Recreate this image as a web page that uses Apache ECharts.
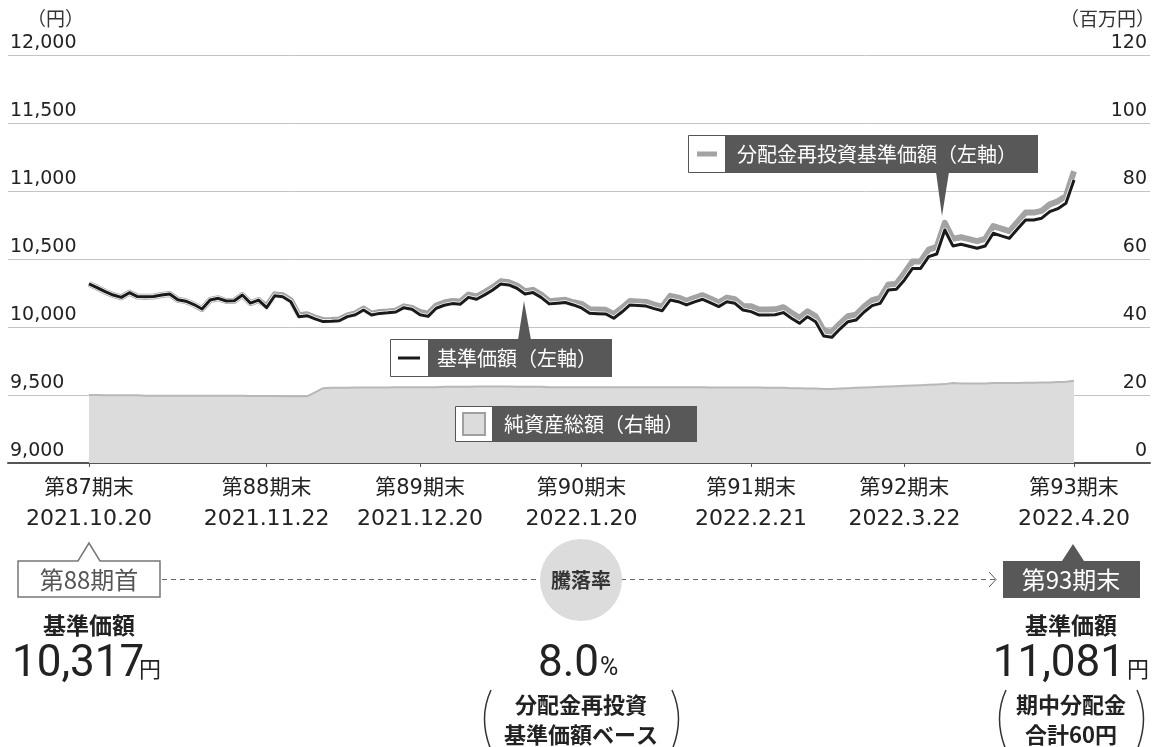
<!DOCTYPE html>
<html><head><meta charset="utf-8">
<script src="https://cdn.jsdelivr.net/npm/echarts@6/dist/echarts.min.js"></script>
<style>html,body{margin:0;padding:0;background:#fff}#c{width:1155px;height:747px}</style>
</head><body><div id="c"></div>
<script>
// ---- data ----
const periodLabels = ['第87期末','第88期末','第89期末','第90期末','第91期末','第92期末','第93期末'];
const dateLabels = ['2021.10.20','2021.11.22','2021.12.20','2022.1.20','2022.2.21','2022.3.22','2022.4.20'];
const tickIndex = [0,22,41,61,82,101,122];
const leftMin = 9000, leftMax = 12000, leftStep = 500;
const rightMin = 0, rightMax = 120, rightStep = 20;

// 基準価額 (円), business days
const navValues = [
10317,10290,10260,10235,10218,10252,10224,10222,10224,10235,10243,10200,10190,10165,10132,10199,10211,10191,10193,10235,10176,10198,
10142,10230,10223,10186,10076,10083,10060,10040,10042,10046,10076,10090,10125,10088,10100,10104,10110,10142,10130,
10090,10078,10138,10160,10172,10168,10218,10204,10236,10272,10316,10309,10285,10243,10253,10218,10170,10175,10180,10162,
10140,10101,10098,10096,10064,10110,10162,10158,10154,10135,10120,10199,10186,10162,10185,10204,10178,10150,10186,10174,10125,
10113,10088,10088,10090,10106,10065,10027,10076,10039,9934,9924,9985,10039,10051,10110,10157,10174,10272,10277,
10346,10431,10431,10517,10537,10713,10596,10608,10594,10579,10596,10689,10670,10652,10720,10787,10787,10800,10848,10870,10910,
11081];

// 分配金再投資基準価額 (円)
const navReinvested = [
10317,10290,10260,10235,10218,10252,10224,10222,10224,10235,10243,10200,10190,10165,10132,10199,10211,10191,10193,10235,10176,10198,
10152,10240,10233,10196,10086,10093,10070,10050,10052,10056,10086,10100,10135,10098,10110,10114,10120,10152,10140,
10110,10098,10158,10180,10192,10188,10238,10224,10256,10292,10336,10329,10305,10263,10273,10238,10190,10195,10200,10182,
10170,10131,10128,10126,10094,10140,10192,10188,10184,10165,10150,10229,10216,10192,10215,10234,10208,10180,10216,10204,10155,
10153,10128,10128,10130,10146,10105,10067,10116,10079,9974,9964,10025,10079,10091,10150,10197,10214,10312,10317,
10397,10482,10482,10569,10589,10766,10648,10660,10646,10631,10648,10742,10723,10705,10773,10841,10841,10854,10902,10924,10964,
11145];

// 純資産総額 (百万円)
const netAssets = [
20.0,20.0,19.9,19.9,19.9,19.9,19.9,19.8,19.8,19.8,19.8,19.8,19.8,19.8,19.8,19.8,19.8,19.8,19.8,19.8,19.7,19.7,19.7,19.7,19.6,19.6,19.6,19.6,
20.8,
22.0,22.1,22.1,22.1,22.2,22.2,22.2,22.2,22.2,22.3,22.3,22.3,22.3,22.3,22.3,22.4,22.4,22.4,22.4,22.5,22.5,22.5,
22.5,22.5,22.4,22.4,22.4,22.4,22.3,22.3,22.3,22.3,22.3,22.3,22.3,22.3,22.3,22.3,22.3,22.3,22.3,22.3,22.3,22.3,22.3,22.3,22.3,22.3,22.2,22.2,22.2,22.2,
22.2,22.2,22.2,22.1,22.1,22.1,22.0,22.0,21.9,21.9,21.8,21.8,21.9,22.0,22.1,22.2,22.3,22.4,22.5,22.6,
22.7,22.8,22.9,23.0,23.1,23.2,23.5,23.4,23.4,23.4,23.4,23.5,23.5,23.5,23.5,23.6,23.6,23.7,23.7,23.8,23.9,24.2];

// ---- chart ----
const chart = echarts.init(document.getElementById('c'), null, {renderer:'canvas'});
const last = navValues.length - 1;
const P = (1074 - 89) / last;
const xMin = -(89 - 8) / P, xMax = last + (1150 - 1074) / P;
const pairs = arr => arr.map((v, i) => [i, v]);
const numFont = "'DejaVu Sans','Noto Sans CJK JP',sans-serif";
const jpFont = "'Noto Sans CJK JP',sans-serif";
const bigFont = "Roboto,'Liberation Sans',sans-serif";
const dark = '#585858';
const fmt = v => String(v).replace(/\B(?=(\d{3})+(?!\d))/g, ',');

const txt = (x, y, text, o) => ({type:'text', x, y, z:100, style:Object.assign({text, fill:'#222', fontSize:20, fontFamily:jpFont, align:'center', verticalAlign:'middle'}, o||{})});
const rect = (x, y, w, h, style) => ({type:'rect', z:100, shape:{x, y, width:w, height:h}, style});
const poly = (points, style) => ({type:'polygon', z:100, shape:{points}, style});

const graphic = [
  txt(27, 19, '（円）', {align:'left', fontSize:19, fill:'#333'}),
  txt(1155, 19, '（百万円）', {align:'right', fontSize:19, fill:'#333'}),
  // legend: 分配金再投資基準価額
  rect(688.5, 135.5, 37, 37, {fill:'#fff', stroke:'#555', lineWidth:1}),
  {type:'line', z:100, shape:{x1:697, y1:154, x2:717, y2:154}, style:{stroke:'#a3a3a3', lineWidth:5}},
  rect(725, 135, 313, 38, {fill:dark}),
  poly([[936,172],[949,172],[942,216]], {fill:dark}),
  txt(737, 154, '分配金再投資基準価額（左軸）', {align:'left', fill:'#fff', fontSize:20}),
  // legend: 基準価額
  rect(390.5, 339.5, 38, 37, {fill:'#fff', stroke:'#555', lineWidth:1}),
  {type:'line', z:100, shape:{x1:398, y1:358, x2:420, y2:358}, style:{stroke:'#1a1a1a', lineWidth:3}},
  rect(428, 339, 184, 38, {fill:dark}),
  poly([[518,340],[531,340],[524,301]], {fill:dark}),
  txt(437, 358, '基準価額（左軸）', {align:'left', fill:'#fff', fontSize:20}),
  // legend: 純資産総額
  rect(455.5, 406.5, 37, 35, {fill:'#fff', stroke:'#555', lineWidth:1}),
  rect(463, 413, 22, 22, {fill:'#dcdcdd', stroke:'#a0a0a0', lineWidth:2}),
  rect(492, 406, 205, 36, {fill:dark}),
  txt(504, 424, '純資産総額（右軸）', {align:'left', fill:'#fff', fontSize:20}),
  // bottom
  {type:'line', z:99, shape:{x1:162, y1:579.5, x2:995, y2:579.5}, style:{stroke:'#666', lineWidth:1, lineDash:[5,4]}},
  {type:'polyline', z:100, shape:{points:[[989,572],[996,579.5],[989,587]]}, style:{stroke:'#555', lineWidth:1, fill:null}},
  poly([[18,561],[78,561],[89,543],[100,561],[160,561],[160,597],[18,597]], {fill:'#fff', stroke:'#777', lineWidth:1.5}),
  txt(89, 580, '第88期首', {fill:'#555', fontSize:24}),
  {type:'circle', z:100, shape:{cx:581, cy:580, r:41}, style:{fill:'#dcdcdd'}},
  txt(581, 580, '騰落率', {fill:'#333', fontSize:20, fontWeight:'bold'}),
  poly([[1003,561],[1062,561],[1073,544],[1084,561],[1140,561],[1140,598],[1003,598]], {fill:dark}),
  txt(1071, 580, '第93期末', {fill:'#fff', fontSize:24}),
  txt(89, 625, '基準価額', {fontSize:23, fontWeight:'bold'}),
  txt(1071, 625, '基準価額', {fontSize:23, fontWeight:'bold'}),
  txt(12, 665, '10,317', {align:'left', fontFamily:bigFont, fontSize:44}),
  txt(139, 669, '円', {align:'left', fontSize:22}),
  txt(599, 665, '8.0', {align:'right', fontFamily:bigFont, fontSize:44}),
  txt(600, 669, '%', {align:'left', fontFamily:bigFont, fontSize:25}),
  txt(1125, 665, '11,081', {align:'right', fontFamily:bigFont, fontSize:44}),
  txt(1127, 669, '円', {align:'left', fontSize:22}),
  txt(581, 705, '分配金再投資', {fontSize:22, fontWeight:'bold'}),
  txt(581, 735, '基準価額ベース', {fontSize:22, fontWeight:'bold'}),
  txt(1071, 705, '期中分配金', {fontSize:22, fontWeight:'bold'}),
  txt(1071, 735, '合計60円', {fontSize:22, fontWeight:'bold'}),
  {type:'bezierCurve', z:100, shape:{x1:491, y1:690, cpx1:478, cpy1:718, x2:491, y2:750}, style:{stroke:'#333', lineWidth:1.5, fill:null}},
  {type:'bezierCurve', z:100, shape:{x1:672, y1:690, cpx1:685, cpy1:718, x2:672, y2:750}, style:{stroke:'#333', lineWidth:1.5, fill:null}},
  {type:'bezierCurve', z:100, shape:{x1:1006, y1:690, cpx1:993, cpy1:718, x2:1006, y2:750}, style:{stroke:'#333', lineWidth:1.5, fill:null}},
  {type:'bezierCurve', z:100, shape:{x1:1137, y1:690, cpx1:1150, cpy1:718, x2:1137, y2:750}, style:{stroke:'#333', lineWidth:1.5, fill:null}}
];

const option = {
  animation: false,
  backgroundColor: '#fff',
  grid: {left: 8, right: 5, top: 55, bottom: 284},
  xAxis: {
    type: 'value', min: xMin, max: xMax,
    splitLine: {show: false},
    axisLine: {lineStyle: {color: '#555', width: 2}},
    axisTick: {show: true, customValues: tickIndex, length: 4, lineStyle: {color: '#555', width: 1}},
    axisLabel: {
      customValues: tickIndex, margin: 11,
      formatter: v => { const k = tickIndex.indexOf(Math.round(v)); return '{p|' + periodLabels[k] + '}\n{d|' + dateLabels[k] + '}'; },
      rich: {
        p: {fontSize: 21, lineHeight: 30, color: '#222', fontFamily: numFont},
        d: {fontSize: 22, lineHeight: 30, color: '#222', fontFamily: numFont}
      }
    }
  },
  yAxis: [
    {type: 'value', min: leftMin, max: leftMax, interval: leftStep,
     axisLine: {show: false}, axisTick: {show: false},
     splitLine: {lineStyle: {color: '#c4c4c4', width: 1}},
     axisLabel: {formatter: fmt, align: 'left', verticalAlign: 'bottom', margin: -2, padding: [0,0,2,0], fontSize: 19, color: '#222', fontFamily: numFont}},
    {type: 'value', min: rightMin, max: rightMax, interval: rightStep, position: 'right',
     axisLine: {show: false}, axisTick: {show: false}, splitLine: {show: false},
     axisLabel: {align: 'right', verticalAlign: 'bottom', margin: -3, padding: [0,0,2,0], fontSize: 19, color: '#222', fontFamily: numFont}}
  ],
  series: [
    {name: '純資産総額', type: 'line', yAxisIndex: 1, data: pairs(netAssets), symbol: 'none', z: 1,
     lineStyle: {color: '#b8b8b8', width: 2}, areaStyle: {color: '#dcdcdd', opacity: 1}},
    {name: '分配金再投資基準価額', type: 'line', data: pairs(navReinvested), symbol: 'none', z: 2,
     lineStyle: {color: '#a3a3a3', width: 6, join: 'round'}},
    {name: 'halo', type: 'line', data: pairs(navValues), symbol: 'none', z: 3, silent: true,
     lineStyle: {color: '#fff', width: 4.5, join: 'round'}},
    {name: '基準価額', type: 'line', data: pairs(navValues), symbol: 'none', z: 4,
     lineStyle: {color: '#1a1a1a', width: 3, join: 'round'}}
  ],
  graphic: graphic
};
chart.setOption(option);
</script>
</body></html>
